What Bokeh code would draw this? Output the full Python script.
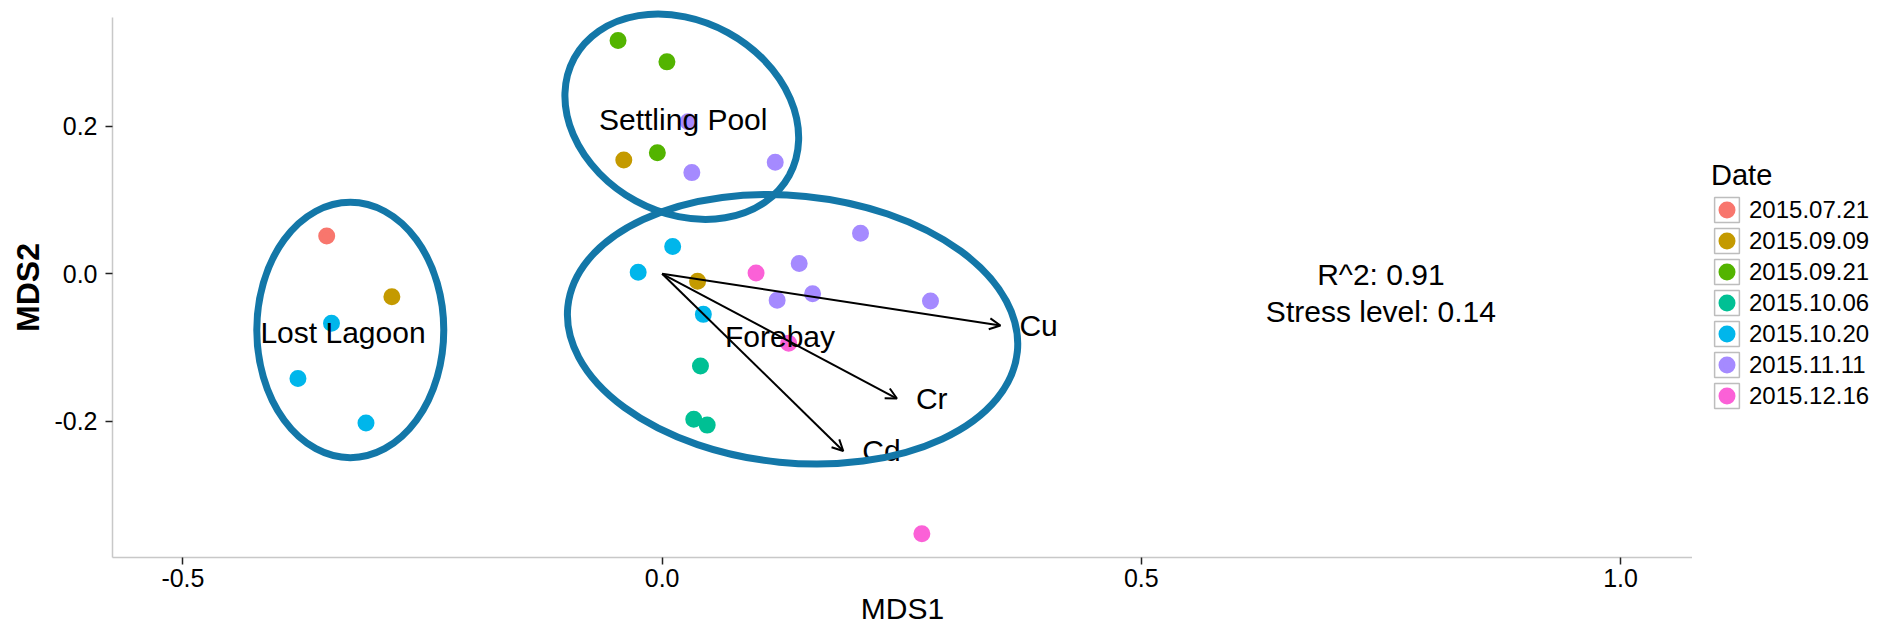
import numpy as np
from bokeh.plotting import figure
from bokeh.layouts import row
from bokeh.models import (ColumnDataSource, Legend, LegendItem, Arrow, OpenHead,
                          FixedTicker, PrintfTickFormatter)
from bokeh.core.properties import value
from bokeh.embed import file_html
from bokeh.resources import INLINE

# ---------------- data ----------------
dates = ["2015.07.21", "2015.09.09", "2015.09.21", "2015.10.06",
         "2015.10.20", "2015.11.11", "2015.12.16"]
colors = ["#F8766D", "#C49A00", "#53B400", "#00C094", "#00B6EB", "#A58AFF", "#FB61D7"]

mds1_0721 = [-0.350]
mds2_0721 = [0.051]
mds1_0909 = [-0.282, -0.040, 0.037]
mds2_0909 = [-0.031, 0.154, -0.010]
mds1_0921 = [-0.046, 0.005, -0.005]
mds2_0921 = [0.316, 0.287, 0.164]
mds1_1006 = [0.040, 0.033, 0.047]
mds2_1006 = [-0.125, -0.197, -0.205]
mds1_1020 = [-0.345, -0.380, -0.309, 0.011, -0.025, 0.043]
mds2_1020 = [-0.067, -0.142, -0.202, 0.037, 0.002, -0.055]
mds1_1111 = [0.027, 0.031, 0.118, 0.143, 0.207, 0.157, 0.120, 0.280]
mds2_1111 = [0.206, 0.137, 0.151, 0.014, 0.055, -0.027, -0.036, -0.037]
mds1_1216 = [0.098, 0.132, 0.271]
mds2_1216 = [0.001, -0.094, -0.352]

metals = ["Cu", "Cr", "Cd"]
load_x = [0.353, 0.245, 0.189]
load_y = [-0.070, -0.169, -0.240]

sites = ["Lost Lagoon", "Settling Pool", "Forebay"]
site_x = [-0.333, 0.022, 0.123]
site_y = [-0.079, 0.209, -0.085]

ell_x = [-0.3254, 0.0205, 0.1361]
ell_y = [-0.0761, 0.2127, -0.0752]
ell_w = [0.1951, 0.2556, 0.4714]
ell_h = [0.3459, 0.2601, 0.3619]
ell_angle = [0.0, -28.7, -5.7]

stat_text = ["R^2: 0.91", "Stress level: 0.14"]
stat_x = [0.75, 0.75]
stat_y = [-0.001, -0.051]

x_ticks = [-0.5, 0.0, 0.5, 1.0]
y_ticks = [-0.2, 0.0, 0.2]

series_x = [mds1_0721, mds1_0909, mds1_0921, mds1_1006, mds1_1020, mds1_1111, mds1_1216]
series_y = [mds2_0721, mds2_0909, mds2_0921, mds2_1006, mds2_1020, mds2_1111, mds2_1216]

FONT = value("Liberation Sans")

X_LEFT, X_RIGHT = -0.5735, 1.0751
Y_BOTTOM, Y_TOP = -0.3843, 0.3471

# ---------------- main figure ----------------
p = figure(width=1692, height=633, x_range=(X_LEFT, X_RIGHT), y_range=(Y_BOTTOM, Y_TOP),
           output_backend="svg", toolbar_location=None,
           min_border_left=112, min_border_right=0, min_border_top=17, min_border_bottom=76)
p.grid.visible = False
p.outline_line_color = None
p.background_fill_color = "white"
p.border_fill_color = "white"

for ax in (p.xaxis[0], p.yaxis[0]):
    ax.axis_line_color = "#c8c8c8"
    ax.axis_line_width = 1.5
    ax.major_tick_line_color = "#222222"
    ax.major_tick_line_width = 1.5
    ax.major_tick_in = 0
    ax.major_tick_out = 7
    ax.minor_tick_line_color = None
    ax.major_label_text_font = "Liberation Sans"
    ax.major_label_text_font_size = "25px"
    ax.major_label_text_color = "#000000"
    ax.formatter = PrintfTickFormatter(format="%.1f")
    ax.axis_label_text_font = "Liberation Sans"
    ax.axis_label_text_color = "#000000"

p.xaxis.ticker = FixedTicker(ticks=x_ticks)
p.yaxis.ticker = FixedTicker(ticks=y_ticks)
p.xaxis.major_label_standoff = 4
p.yaxis.major_label_standoff = 8

p.yaxis.axis_label = "MDS2"
p.yaxis.axis_label_text_font_size = "32px"
p.yaxis.axis_label_text_font_style = "bold"
p.yaxis.axis_label_standoff = 5

p.xaxis.axis_label = "MDS1"
p.xaxis.axis_label_text_font_size = "30px"
p.xaxis.axis_label_text_font_style = "normal"
p.xaxis.axis_label_standoff = 2

# points (fill + same-colour outline: 12.4 + 4.6 = 17 px dots)
for xs, ys, c in zip(series_x, series_y, colors):
    p.scatter(x=xs, y=ys, size=12.4, fill_color=c, line_color=c, line_width=4.6)

# loading arrows
arrow_src = ColumnDataSource(dict(x0=[0.0] * len(load_x), y0=[0.0] * len(load_y),
                                  x1=load_x, y1=load_y))
p.add_layout(Arrow(end=OpenHead(size=11, line_width=2, line_color="black"),
                   x_start="x0", y_start="y0", x_end="x1", y_end="y1",
                   source=arrow_src, line_width=2, line_color="black"))

p.text(x=load_x, y=load_y, text=metals, x_offset=19, text_align="left",
       text_baseline="middle", text_font=FONT, text_font_size="30px", text_color="black")

# site labels
p.text(x=site_x, y=site_y, text=sites, text_align="center", text_baseline="middle",
       text_font=FONT, text_font_size="30px", text_color="black")

# stats
p.text(x=stat_x, y=stat_y, text=stat_text, text_align="center", text_baseline="middle",
       text_font=FONT, text_font_size="30px", text_color="black")

# ellipses
er = p.ellipse(x=ell_x, y=ell_y, width=ell_w, height=ell_h, angle=ell_angle,
               angle_units="deg", fill_color=None, line_color="#1377a8", line_width=7)
er.level = "overlay"

# ---------------- legend panel (own figure, right of the plot) ----------------
# its ranges lie away from the data, so its renderers only show up as legend keys
pl = figure(width=206, height=633, x_range=(10, 11), y_range=(10, 11),
            output_backend="svg", toolbar_location=None,
            x_axis_location=None, y_axis_location=None, min_border=0)
pl.grid.visible = False
pl.outline_line_color = None
pl.background_fill_color = "white"
pl.border_fill_color = "white"

box_r = pl.rect(x=mds1_0721, y=mds2_0721, width=0.01, height=0.01, fill_color="white",
                line_color="#bdbdbd", line_width=1.5)
items = []
for d, xs, ys, c in zip(dates, series_x, series_y, colors):
    kr = pl.scatter(x=xs, y=ys, size=12.4, fill_color=c, line_color=c, line_width=4.6)
    items.append(LegendItem(label=d, renderers=[box_r, kr]))

legend = Legend(items=items, title="Date", location=(19, 146),
                glyph_width=31, glyph_height=31, spacing=0, label_standoff=7,
                padding=0, margin=0, title_standoff=2,
                border_line_color=None, background_fill_alpha=0,
                label_text_font="Liberation Sans", label_text_font_size="24px",
                label_text_color="#000000",
                title_text_font="Liberation Sans", title_text_font_size="29px",
                title_text_font_style="normal", title_text_color="#000000")
pl.add_layout(legend, "center")

layout = row(p, pl, spacing=0)
open("out.html", "w").write(file_html(layout, INLINE))
